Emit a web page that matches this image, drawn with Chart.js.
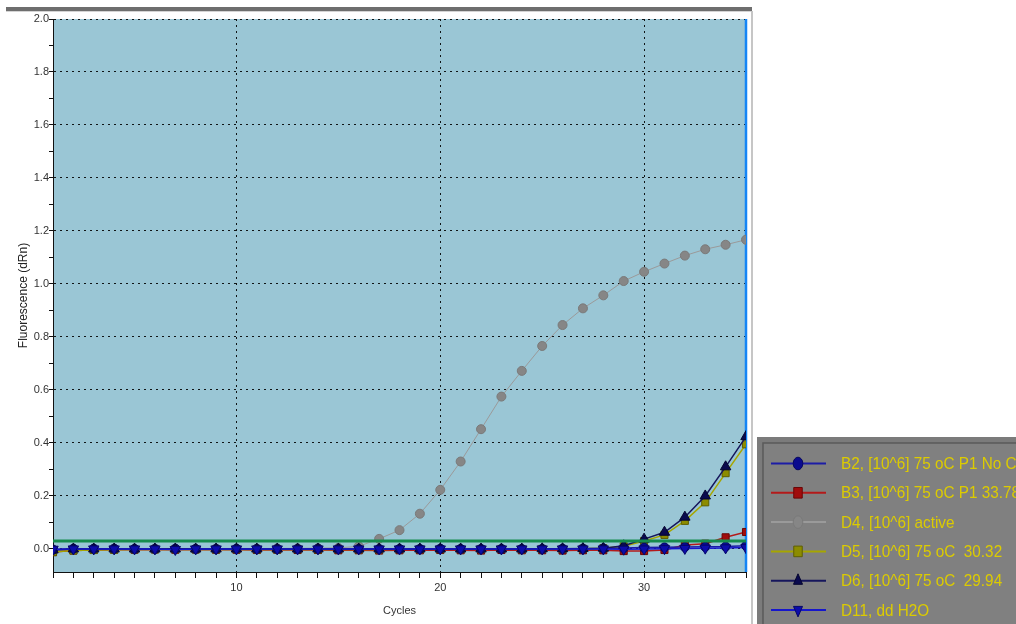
<!DOCTYPE html>
<html>
<head>
<meta charset="utf-8">
<title>Amplification Plot</title>
<script src="https://cdn.jsdelivr.net/npm/chart.js@4.4.1/dist/chart.umd.min.js"></script>
<style>
  html, body { margin: 0; padding: 0; background: #ffffff; overflow: hidden; }
  #wrap { position: relative; width: 1016px; height: 624px; }
  #chart { position: absolute; left: 0; top: 0; }
  #topbar { position: absolute; left: 6px; top: 7px; width: 746px; height: 4px; background: #6e6e6e; }
  #topline { position: absolute; left: 6px; top: 11px; width: 746px; height: 1px; background: #d4d4d4; }
  #sideline { position: absolute; left: 751px; top: 11px; width: 2px; height: 613px; background: #c6c6c6; }
</style>
</head>
<body>
<div id="wrap">
  <canvas id="chart" width="1016" height="624"></canvas>
  <div id="topbar"></div>
  <div id="topline"></div>
  <div id="sideline"></div>
</div>
<script>
// Cycle numbers (x axis)
const cycles = [1, 2, 3, 4, 5, 6, 7, 8, 9, 10, 11, 12, 13, 14, 15, 16, 17, 18, 19, 20,
                21, 22, 23, 24, 25, 26, 27, 28, 29, 30, 31, 32, 33, 34, 35];

// Fluorescence (dRn) per well
const wellB2 = [-0.003, 0.001, 0.001, 0.001, 0.000, 0.000, 0.001, 0.000, 0.000, 0.001,
                0.000, 0.000, 0.000, 0.001, 0.000, 0.000, 0.000, 0.000, 0.000, 0.001,
                0.000, 0.000, 0.000, 0.000, 0.000, 0.001, 0.001, 0.002, 0.004, 0.005,
                0.006, 0.007, 0.008, 0.009, 0.012];
const wellB3 = [-0.012, -0.006, -0.004, -0.003, -0.003, -0.002, -0.003, -0.002, -0.003, -0.003,
                -0.004, -0.003, -0.004, -0.004, -0.005, -0.005, -0.006, -0.005, -0.005, -0.004,
                -0.005, -0.006, -0.004, -0.005, -0.005, -0.006, -0.005, -0.005, -0.008, -0.008,
                -0.004, 0.015, 0.020, 0.044, 0.064];
const wellD4 = [-0.002, 0.000, 0.000, 0.001, 0.000, 0.001, 0.000, 0.000, 0.001, 0.000,
                0.001, 0.002, 0.002, 0.003, 0.004, 0.010, 0.038, 0.071, 0.133, 0.223,
                0.330, 0.452, 0.575, 0.672, 0.766, 0.845, 0.908, 0.957, 1.011, 1.046,
                1.077, 1.107, 1.131, 1.148, 1.167];
const wellD5 = [-0.012, -0.006, -0.004, -0.003, -0.002, -0.002, -0.001, -0.002, -0.002, -0.001,
                -0.002, -0.002, -0.001, -0.002, -0.001, -0.002, -0.002, -0.001, -0.001, -0.001,
                -0.001, -0.001, 0.000, -0.001, 0.000, 0.000, 0.001, 0.003, 0.010, 0.030,
                0.053, 0.106, 0.176, 0.286, 0.395];
const wellD6 = [-0.004, 0.000, 0.000, 0.000, 0.000, 0.000, 0.000, 0.000, 0.000, 0.000,
                0.000, 0.000, 0.000, 0.000, 0.000, 0.000, 0.000, 0.000, 0.000, 0.000,
                0.000, 0.000, 0.000, 0.000, 0.001, 0.001, 0.002, 0.003, 0.012, 0.037,
                0.063, 0.120, 0.200, 0.310, 0.424];
const wellD11 = [-0.001, 0.000, 0.000, 0.000, 0.000, 0.000, -0.002, 0.000, 0.000, 0.000,
                 0.000, 0.000, 0.000, 0.000, 0.000, 0.000, 0.000, 0.000, 0.000, 0.000,
                 0.000, 0.000, 0.000, 0.000, 0.000, 0.000, 0.000, 0.000, -0.001, 0.000,
                 0.001, 0.002, 0.003, 0.004, 0.005];

// Threshold
const thresholdValue = 0.03;

// Legend labels
const seriesLabels = [
  'B2, [10^6] 75 oC P1 No Ct',
  'B3, [10^6] 75 oC P1 33.78',
  'D4, [10^6] active',
  'D5, [10^6] 75 oC  30.32',
  'D6, [10^6] 75 oC  29.94',
  'D11, dd H2O'
];

// Axis ticks
const xLabelTicks = [10, 20, 30];
const yMajorTicks = [0.0, 0.2, 0.4, 0.6, 0.8, 1.0, 1.2, 1.4, 1.6, 1.8, 2.0];
const yMinorTicks = [0.1, 0.3, 0.5, 0.7, 0.9, 1.1, 1.3, 1.5, 1.7, 1.9];

const FONT = '"Liberation Sans", Arial, sans-serif';

function points(values) {
  return values.map((v, i) => ({ x: cycles[i], y: v }));
}

function series(label, values, line, fill, edge, style, radius, rotation, order, width) {
  return {
    label: label,
    data: points(values),
    borderColor: line,
    borderWidth: width,
    pointStyle: style,
    pointRadius: radius,
    pointRotation: rotation,
    pointBackgroundColor: fill,
    pointBorderColor: edge,
    pointBorderWidth: 1,
    tension: 0,
    order: order,
    inLegend: true
  };
}

const datasets = [
  {
    label: 'Threshold',
    data: [{ x: cycles[0], y: thresholdValue }, { x: cycles[cycles.length - 1], y: thresholdValue }],
    borderColor: '#178c4e',
    borderWidth: 3,
    pointRadius: 0,
    order: 0,
    inLegend: false
  },
  series(seriesLabels[0], wellB2, '#1c1ca6', '#0a0a8e', '#06065e', 'circle', 4.5, 0, 3, 1.5),
  series(seriesLabels[1], wellB3, '#b41a1a', '#a00c0c', '#6a0606', 'rect', 5, 0, 5, 1.5),
  series(seriesLabels[2], wellD4, '#9a9a9a', '#868686', '#7a7a7a', 'circle', 4.5, 0, 6, 1),
  series(seriesLabels[3], wellD5, '#a6a600', '#8c8c00', '#5e5e00', 'rect', 5, 0, 4, 1.5),
  series(seriesLabels[4], wellD6, '#16165c', '#0a0a4e', '#050530', 'triangle', 6, 0, 2, 1.5),
  series(seriesLabels[5], wellD11, '#1616cc', '#0c0caa', '#06066a', 'triangle', 6, 180, 1, 1.5)
];

// Plot background and right edge
const plotFrame = {
  id: 'plotFrame',
  beforeDraw(chart) {
    const { ctx, chartArea: a } = chart;
    ctx.save();
    ctx.fillStyle = '#9ac6d5';
    ctx.fillRect(a.left, a.top, a.right - a.left, a.bottom - a.top);
    ctx.restore();
  },
  beforeDatasetsDraw(chart) {
    const { ctx, chartArea: a } = chart;
    ctx.save();
    ctx.strokeStyle = '#1485f5';
    ctx.lineWidth = 2.5;
    ctx.beginPath();
    ctx.moveTo(a.right, a.top);
    ctx.lineTo(a.right, a.bottom);
    ctx.stroke();
    ctx.restore();
  }
};

function drawMarker(ctx, style, x, y, r, rot, fill, edge) {
  ctx.save();
  ctx.translate(x, y);
  ctx.rotate(rot * Math.PI / 180);
  ctx.beginPath();
  if (style === 'circle') {
    ctx.ellipse(0, 0, r * 0.8, r * 1.05, 0, 0, Math.PI * 2);
  } else if (style === 'rect') {
    const s = r * Math.SQRT1_2;
    ctx.rect(-s, -s * 1.25, 2 * s, 2.5 * s);
  } else {
    ctx.moveTo(0, -r * 1.15);
    ctx.lineTo(r * 0.75, r * 0.6);
    ctx.lineTo(-r * 0.75, r * 0.6);
    ctx.closePath();
  }
  ctx.fillStyle = fill;
  ctx.fill();
  ctx.strokeStyle = edge;
  ctx.lineWidth = 1;
  ctx.stroke();
  ctx.restore();
}

// Legend panel at the lower right
const legendPanel = {
  id: 'legendPanel',
  afterDraw(chart) {
    const ctx = chart.ctx;
    const x0 = 757, y0 = 437;
    ctx.save();
    ctx.fillStyle = '#7b7b7b';
    ctx.fillRect(x0, y0, 1016 - x0, 624 - y0);
    ctx.fillStyle = '#808080';
    ctx.fillRect(x0 + 6, y0 + 6, 1016 - x0 - 6, 624 - y0 - 6);
    ctx.strokeStyle = '#5a5a5a';
    ctx.lineWidth = 1.5;
    ctx.beginPath();
    ctx.moveTo(x0 + 6, 624);
    ctx.lineTo(x0 + 6, y0 + 6);
    ctx.lineTo(1016, y0 + 6);
    ctx.stroke();

    const items = chart.data.datasets.filter(d => d.inLegend);
    items.forEach((d, i) => {
      const y = 463.5 + i * 29.3;
      ctx.strokeStyle = d.borderColor;
      ctx.lineWidth = 2;
      ctx.beginPath();
      ctx.moveTo(771, y);
      ctx.lineTo(826, y);
      ctx.stroke();
      drawMarker(ctx, d.pointStyle, 798, y, 6, d.pointRotation, d.pointBackgroundColor, d.pointBorderColor);
      ctx.save();
      ctx.translate(841, y);
      ctx.scale(0.9, 1);
      ctx.font = '17px ' + FONT;
      ctx.fillStyle = '#dccb00';
      ctx.textBaseline = 'middle';
      ctx.textAlign = 'left';
      ctx.fillText(d.label, 0, 1);
      ctx.restore();
    });
    ctx.restore();
  }
};

const isMajorY = v => yMajorTicks.some(t => Math.abs(t - v) < 1e-9);

new Chart(document.getElementById('chart'), {
  type: 'line',
  data: { datasets: datasets },
  plugins: [plotFrame, legendPanel],
  options: {
    responsive: false,
    devicePixelRatio: 1,
    animation: false,
    events: [],
    layout: { padding: { left: 0, top: 19, right: 270, bottom: 0 } },
    plugins: { legend: { display: false }, tooltip: { enabled: false } },
    scales: {
      x: {
        type: 'linear',
        min: cycles[0],
        max: cycles[cycles.length - 1],
        afterBuildTicks: s => { s.ticks = cycles.map(v => ({ value: v })); },
        afterFit: s => { s.height = 52; },
        ticks: {
          autoSkip: false,
          maxRotation: 0,
          padding: 3,
          color: '#333333',
          font: { family: FONT, size: 11 },
          callback: v => (xLabelTicks.includes(v) ? String(v) : '')
        },
        grid: {
          color: c => (c.tick && xLabelTicks.includes(c.tick.value) ? 'rgba(0,0,0,0.9)' : 'rgba(0,0,0,0)'),
          tickColor: '#111111',
          tickLength: 6,
          tickWidth: 1,
          lineWidth: 1,
          tickBorderDash: []
        },
        border: { display: true, color: '#111111', width: 1, dash: [2, 4] },
        title: {
          display: true,
          text: 'Cycles',
          color: '#333333',
          font: { family: FONT, size: 11 },
          padding: { top: 0, bottom: 6 }
        }
      },
      y: {
        type: 'linear',
        min: -0.087,
        max: 2.0,
        afterBuildTicks: s => {
          s.ticks = yMajorTicks.concat(yMinorTicks).sort((a, b) => a - b).map(v => ({ value: v }));
        },
        afterFit: s => { s.width = 53; },
        ticks: {
          autoSkip: false,
          padding: 0,
          color: '#333333',
          font: { family: FONT, size: 11 },
          callback: v => (isMajorY(v) ? v.toFixed(1) : '')
        },
        grid: {
          color: c => (c.tick && isMajorY(c.tick.value) ? 'rgba(0,0,0,0.9)' : 'rgba(0,0,0,0)'),
          tickColor: '#111111',
          tickLength: 4,
          tickWidth: 1,
          lineWidth: 1,
          tickBorderDash: []
        },
        border: { display: true, color: '#111111', width: 1, dash: [2, 4] },
        title: {
          display: true,
          text: 'Fluorescence (dRn)',
          color: '#222222',
          font: { family: FONT, size: 12 },
          padding: { top: 16, bottom: 0 }
        }
      }
    }
  }
});
</script>
</body>
</html>
